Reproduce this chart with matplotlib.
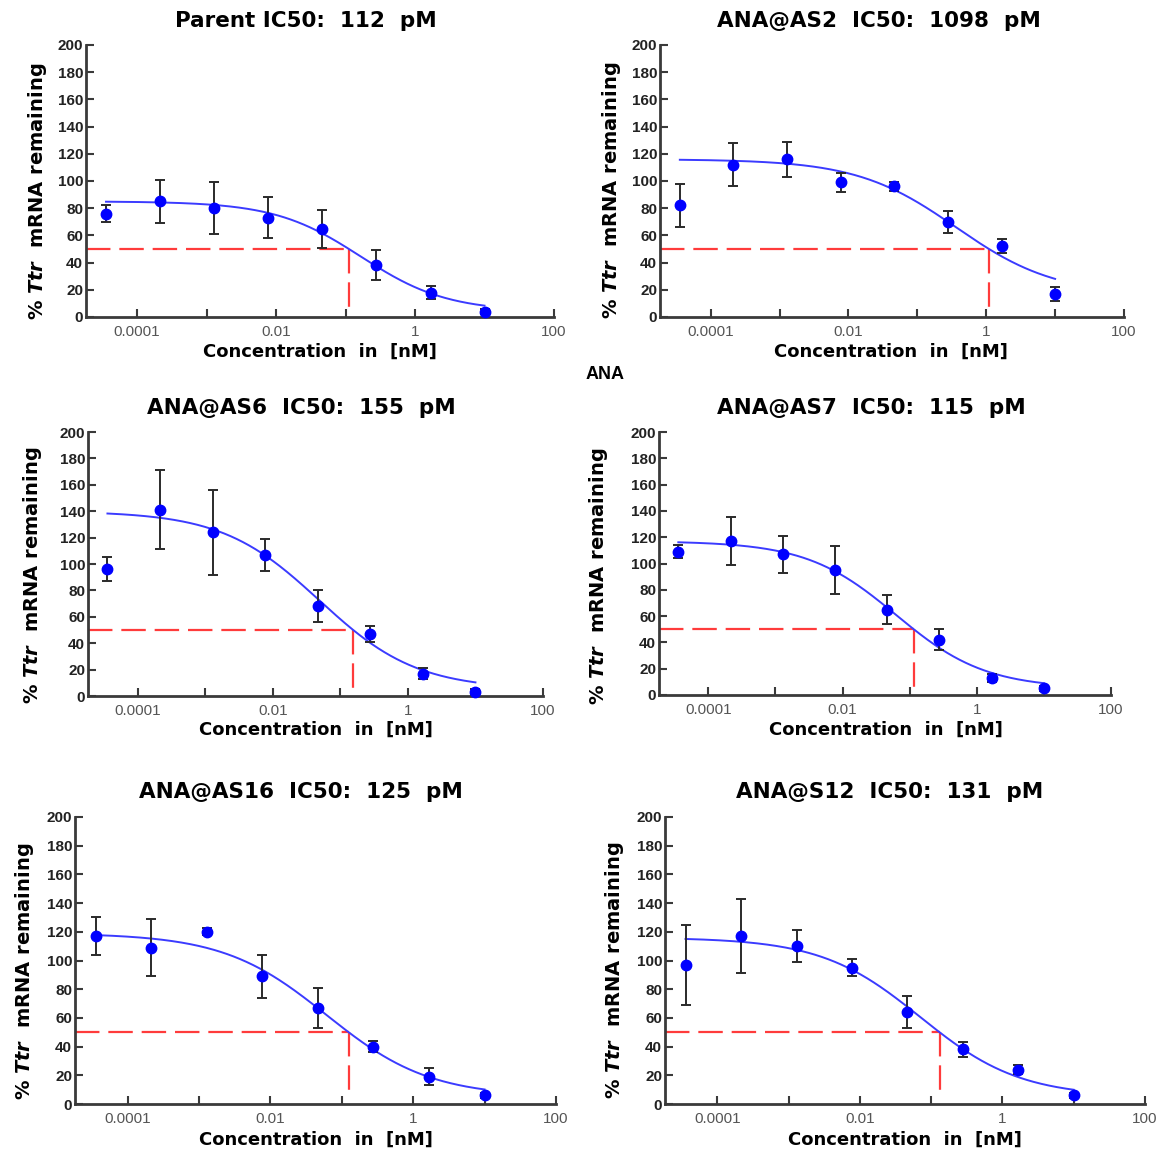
import numpy as np
import matplotlib.pyplot as plt
from matplotlib.ticker import FixedLocator, FixedFormatter, NullLocator

plt.rcParams['font.family'] = ['Liberation Sans', 'DejaVu Sans']
plt.rcParams['mathtext.fontset'] = 'custom'
plt.rcParams['mathtext.bf'] = 'DejaVu Sans:bold'
plt.rcParams['mathtext.bfit'] = 'DejaVu Sans:italic:bold'

# concentrations (nM), 6-fold dilution series
conc = [3.57e-5, 2.14e-4, 1.29e-3, 7.72e-3, 0.0463, 0.278, 1.67, 10.0]

titles = ['Parent IC50:  112  pM', 'ANA@AS2  IC50:  1098  pM',
          'ANA@AS6  IC50:  155  pM', 'ANA@AS7  IC50:  115  pM',
          'ANA@AS16  IC50:  125  pM', 'ANA@S12  IC50:  131  pM']

parent_y = [76, 85, 80, 73, 65, 38, 18, 4]
parent_err = [6, 16, 19, 15, 14, 11, 5, 2]
as2_y = [82, 112, 116, 99, 96, 70, 52, 17]
as2_err = [16, 16, 13, 7, 3, 8, 5, 5]
as6_y = [96, 141, 124, 107, 68, 47, 17, 3]
as6_err = [9, 30, 32, 12, 12, 6, 4, 2]
as7_y = [109, 117, 107, 95, 65, 42, 13, 5]
as7_err = [5, 18, 14, 18, 11, 8, 3, 2]
as16_y = [117, 109, 120, 89, 67, 40, 19, 6]
as16_err = [13, 20, 2.5, 15, 14, 4, 6, 2]
s12_y = [97, 117, 110, 95, 64, 38, 24, 6]
s12_err = [28, 26, 11, 6, 11, 5, 3, 2]

# fitted curve parameters: top, bottom, hill slope, IC50 (nM)
fit_top = [85, 116, 140, 117, 119, 116]
fit_bottom = [4, 16, 5, 5, 5, 5]
fit_hill = [0.7, 0.6, 0.6, 0.65, 0.6, 0.62]
ic50 = [0.112, 1.098, 0.155, 0.115, 0.125, 0.131]

means = [parent_y, as2_y, as6_y, as7_y, as16_y, s12_y]
errs = [parent_err, as2_err, as6_err, as7_err, as16_err, s12_err]

W, H = 1162, 1152
fig = plt.figure(figsize=(W / 100, H / 100), dpi=100)

# axes boxes in pixels: left, right, top, bottom
boxes = [(86, 554, 45, 317), (660, 1124, 45, 317),
         (88, 543, 432, 696), (659, 1111, 432, 695),
         (75, 556, 817, 1104), (665, 1145, 817, 1104)]
title_pos = [(306, 21), (879, 21), (301, 408), (871, 408), (301, 792), (890, 792)]
xlab_pos = [(320, 352), (891, 352), (316, 730), (886, 730), (316, 1140), (905, 1140)]
ylab_pos = [(38, 191), (611, 190), (33, 575), (598, 576), (24, 971), (615, 970)]

xmin, xmax = 1.84e-5, 100
axis_col = '#3a3a3a'

for i in range(6):
    l, r, t, b = boxes[i]
    ax = fig.add_axes([l / W, 1 - b / H, (r - l) / W, (b - t) / H])
    ax.set_xscale('log')
    ax.set_xlim(xmin, xmax)
    ax.set_ylim(0, 200)

    top, bot, h, ic = fit_top[i], fit_bottom[i], fit_hill[i], ic50[i]
    ec = ic / ((top - bot) / (50 - bot) - 1) ** (1 / h)
    xs = np.logspace(np.log10(conc[0]), np.log10(conc[-1]), 300)
    ax.plot(xs, bot + (top - bot) / (1 + (xs / ec) ** h), color='#3b3bff', lw=1.4, zorder=3)

    ax.plot([xmin, ic], [50, 50], color='#ff3b3b', lw=1.6, ls=(0, (11, 4)), zorder=2)
    ax.plot([ic, ic], [50, 4], color='#ff3b3b', lw=1.6, ls=(0, (11, 4)), zorder=2)

    ax.errorbar(conc, means[i], yerr=errs[i], fmt='none', ecolor='#2a2a2a',
                elinewidth=1.4, capsize=3.5, capthick=1.4, zorder=4)
    ax.plot(conc, means[i], 'o', color='#0000ff', ms=7.5, zorder=5, clip_on=False)

    for s in ['top', 'right']:
        ax.spines[s].set_visible(False)
    for s in ['left', 'bottom']:
        ax.spines[s].set_color(axis_col)
        ax.spines[s].set_linewidth(2)

    ax.xaxis.set_major_locator(FixedLocator([1e-4, 1e-3, 1e-2, 1e-1, 1, 10, 100]))
    ax.xaxis.set_major_formatter(FixedFormatter(['0.0001', '', '0.01', '', '1', '', '100']))
    ax.xaxis.set_minor_locator(NullLocator())
    ax.set_yticks(range(0, 201, 20))
    ax.tick_params(axis='both', direction='in', length=6, width=1.5, color=axis_col)
    ax.tick_params(axis='x', labelsize=11, labelcolor='#555555', pad=6)
    ax.tick_params(axis='y', labelsize=11, labelcolor='#222222', pad=2)
    for lab in ax.get_yticklabels():
        lab.set_fontweight('bold')

    fig.text(title_pos[i][0] / W, 1 - title_pos[i][1] / H, titles[i], ha='center', va='center',
             fontsize=15.5, fontweight='bold', family='DejaVu Sans')
    fig.text(xlab_pos[i][0] / W, 1 - xlab_pos[i][1] / H, 'Concentration  in  [nM]', ha='center',
             va='center', fontsize=13, fontweight='bold', family='DejaVu Sans')
    fig.text(ylab_pos[i][0] / W, 1 - ylab_pos[i][1] / H, r'% $\mathbfit{Ttr}$  mRNA remaining',
             ha='center', va='center', rotation=90, fontsize=14, fontweight='bold',
             family='DejaVu Sans')

fig.text(605 / W, 1 - 375 / H, 'ANA', ha='center', va='center', fontsize=13, fontweight='bold')

plt.savefig('out.png', dpi=100)
